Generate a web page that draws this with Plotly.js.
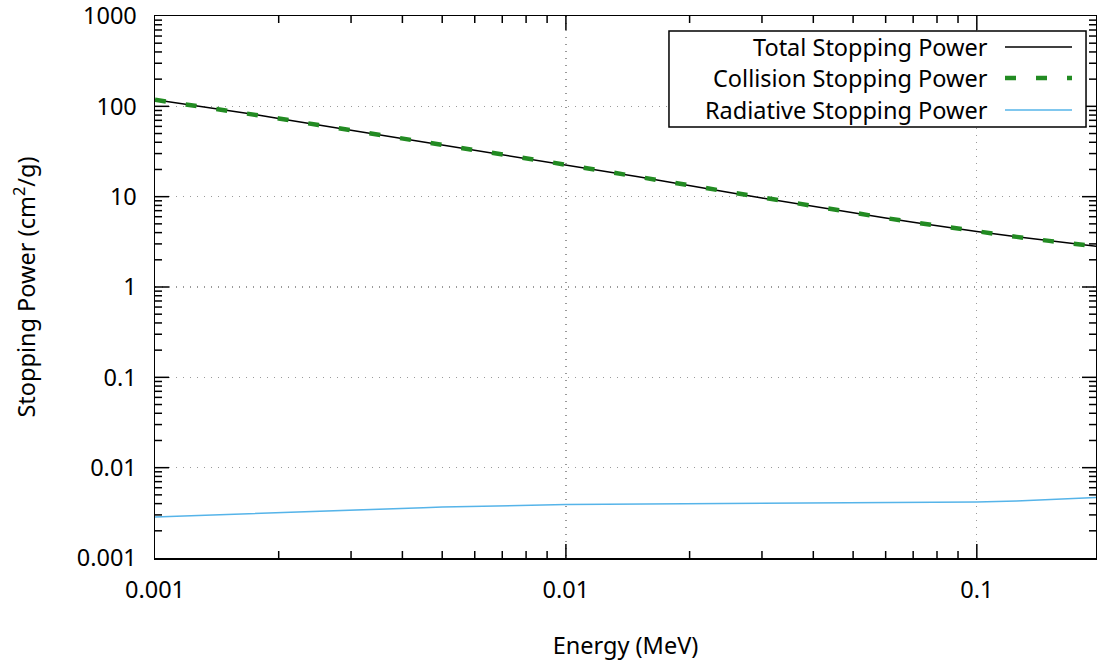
<!DOCTYPE html>
<html>
<head>
<meta charset="utf-8">
<script src="https://cdn.plot.ly/plotly-3.0.1.min.js"></script>
<style>html,body{margin:0;padding:0;background:#fff;}#chart{width:1097px;height:664px;}</style>
</head>
<body>
<div id="chart"></div>
<script>
// Energy grid (MeV)
const energy = [0.001, 0.00125, 0.0015, 0.00175, 0.002, 0.0025, 0.003, 0.0035, 0.004, 0.0045, 0.005, 0.0055, 0.006, 0.007, 0.008, 0.009,
  0.01, 0.0125, 0.015, 0.0175, 0.02, 0.025, 0.03, 0.035, 0.04, 0.045, 0.05, 0.055, 0.06, 0.07, 0.08, 0.09,
  0.1, 0.125, 0.15, 0.175, 0.2];
// Collision stopping power (cm^2/g)
const collision = [118, 102, 90, 81, 73.5, 62, 54.5, 48.5, 44, 40.3, 37.3, 34.8, 32.7, 29.3, 26.6, 24.4,
  22.56, 19.0, 16.6, 14.75, 13.17, 11.09, 9.65, 8.59, 7.78, 7.13, 6.60, 6.17, 5.80, 5.21, 4.76, 4.40,
  4.115, 3.59, 3.24, 2.98, 2.79];
// Radiative stopping power (cm^2/g)
const radiative = [0.00285, 0.00296, 0.00305, 0.00313, 0.00320, 0.00331, 0.00340, 0.00348, 0.00355, 0.00361, 0.00366, 0.00370, 0.00374, 0.00380, 0.00384, 0.00387,
  0.00390, 0.00393, 0.00395, 0.00396, 0.00397, 0.00399, 0.00400, 0.00401, 0.00402, 0.00403, 0.00404, 0.00405, 0.00406, 0.00408, 0.00410, 0.00413,
  0.00416, 0.00427, 0.00440, 0.00455, 0.00470];
const total = collision.map((c, i) => c + radiative[i]);

const seriesNames = ['Total Stopping Power', 'Collision Stopping Power', 'Radiative Stopping Power'];
const xTickVals = [0.001, 0.01, 0.1];
const xTickText = ['0.001', '0.01', '0.1'];
const yTickVals = [0.001, 0.01, 0.1, 1, 10, 100, 1000];
const yTickText = ['0.001', '0.01', '0.1', '1', '10', '100', '1000'];

function minorVals(decades) {
  const out = [];
  decades.forEach(d => { for (let k = 2; k <= 9; k++) out.push(k * d); });
  return out;
}

const FONT = 'Noto Sans, Open Sans, sans-serif';
const FS = 23.5;
const styles = [
  {color: '#000000', width: 1.5, dash: 'solid'},
  {color: '#228b22', width: 4.5, dash: '11px,20px'},
  {color: '#56b4e9', width: 1.5, dash: 'solid'}
];

const traces = [
  {x: energy, y: total, name: seriesNames[0], mode: 'lines', line: styles[0]},
  {x: energy, y: collision, name: seriesNames[1], mode: 'lines', line: styles[1]},
  {x: energy, y: radiative, name: seriesNames[2], mode: 'lines', line: styles[2]}
];

const xRange = [Math.log10(0.001), Math.log10(0.195)];
const yRange = [-3, 3];

// plot area size (px) from margins
const W = 1097, H = 664, M = {l: 155, r: 1, t: 16, b: 106};
const PW = W - M.l - M.r, PH = H - M.t - M.b;

const major = {
  type: 'log',
  showline: true, linecolor: '#000', linewidth: 1.5,
  mirror: true,
  ticks: '',
  showgrid: true, gridcolor: '#9a9a9a', griddash: '1px,6px', gridwidth: 1.3,
  zeroline: false,
  tickmode: 'array',
  ticklabeloverflow: 'allow',
  tickfont: {family: FONT, size: FS, color: '#000'}
};

// Inward tick marks on all four sides (gnuplot style), positioned through the axis ranges
const shapes = [];
const tickLine = {color: '#000', width: 1.5};
function addXTicks(vals, len) {
  vals.forEach(v => {
    const p = (Math.log10(v) - xRange[0]) / (xRange[1] - xRange[0]);
    if (p <= 0.001 || p >= 0.999) return;
    const dy = len / PH;
    shapes.push({type: 'line', xref: 'paper', yref: 'paper', x0: p, x1: p, y0: 0, y1: dy, line: tickLine, layer: 'above'});
    shapes.push({type: 'line', xref: 'paper', yref: 'paper', x0: p, x1: p, y0: 1, y1: 1 - dy, line: tickLine, layer: 'above'});
  });
}
function addYTicks(vals, len) {
  vals.forEach(v => {
    const p = (Math.log10(v) - yRange[0]) / (yRange[1] - yRange[0]);
    if (p <= 0.001 || p >= 0.999) return;
    const dx = len / PW;
    shapes.push({type: 'line', xref: 'paper', yref: 'paper', x0: 0, x1: dx, y0: p, y1: p, line: tickLine, layer: 'above'});
    shapes.push({type: 'line', xref: 'paper', yref: 'paper', x0: 1, x1: 1 - dx, y0: p, y1: p, line: tickLine, layer: 'above'});
  });
}
addXTicks(xTickVals, 14);
addXTicks(minorVals([0.001, 0.01, 0.1]), 7);
addYTicks(yTickVals, 14);
addYTicks(minorVals([0.001, 0.01, 0.1, 1, 10, 100]), 7);

// Manual legend (box on upper right, text right-aligned with sample on right)
const legRows = [0.9428, 0.8856, 0.8266];
shapes.push({type: 'rect', xref: 'paper', yref: 'paper', x0: 0.5462, x1: 0.9894, y0: 0.7952, y1: 0.9723,
  line: {color: '#000', width: 1.5}, fillcolor: '#fff', layer: 'above'});
const annotations = [];
seriesNames.forEach((n, i) => {
  shapes.push({type: 'line', xref: 'paper', yref: 'paper', x0: 0.9033, x1: 0.9745, y0: legRows[i], y1: legRows[i],
    line: {color: styles[i].color, width: styles[i].width, dash: styles[i].dash}, layer: 'above'});
  annotations.push({xref: 'paper', yref: 'paper', x: 0.8873, y: legRows[i], xanchor: 'right', yanchor: 'middle',
    text: n, showarrow: false, font: {family: FONT, size: FS, color: '#000'}});
});

const layout = {
  width: W, height: H,
  margin: M,
  paper_bgcolor: '#fff', plot_bgcolor: '#fff',
  showlegend: false,
  font: {family: FONT, size: FS, color: '#000'},
  xaxis: Object.assign({}, major, {
    range: xRange,
    tickvals: xTickVals, ticktext: xTickText,
    ticklabelstandoff: 10,
    title: {text: 'Energy (MeV)', font: {family: FONT, size: FS, color: '#000'}, standoff: 34}
  }),
  yaxis: Object.assign({}, major, {
    range: yRange,
    tickvals: yTickVals, ticktext: yTickText,
    ticklabelstandoff: 12,
    title: {text: 'Stopping Power (cm<sup>2</sup>/g)', font: {family: FONT, size: FS, color: '#000'}, standoff: 34}
  }),
  shapes: shapes,
  annotations: annotations
};

Plotly.newPlot('chart', traces, layout, {displayModeBar: false, staticPlot: true});
</script>
</body>
</html>
